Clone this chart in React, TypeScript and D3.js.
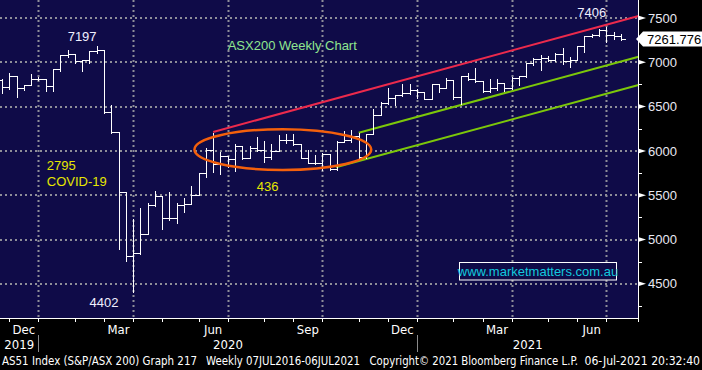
import React from "react";
import * as d3 from "d3";

const W = 702;
const H = 370;
const PLOT_R = 638;
const PLOT_B = 318;

// weekly bars (week ending Friday)
const weeks = [
  "2019-11-22", "2019-11-29", "2019-12-06", "2019-12-13", "2019-12-20", "2019-12-27",
  "2020-01-03", "2020-01-10", "2020-01-17", "2020-01-24", "2020-01-31",
  "2020-02-07", "2020-02-14", "2020-02-21", "2020-02-28",
  "2020-03-06", "2020-03-13", "2020-03-20", "2020-03-27",
  "2020-04-03", "2020-04-10", "2020-04-17", "2020-04-24",
  "2020-05-01", "2020-05-08", "2020-05-15", "2020-05-22", "2020-05-29",
  "2020-06-05", "2020-06-12", "2020-06-19", "2020-06-26",
  "2020-07-03", "2020-07-10", "2020-07-17", "2020-07-24", "2020-07-31",
  "2020-08-07", "2020-08-14", "2020-08-21", "2020-08-28",
  "2020-09-04", "2020-09-11", "2020-09-18", "2020-09-25",
  "2020-10-02", "2020-10-09", "2020-10-16", "2020-10-23", "2020-10-30",
  "2020-11-06", "2020-11-13", "2020-11-20", "2020-11-27",
  "2020-12-04", "2020-12-11", "2020-12-18", "2020-12-25",
  "2021-01-01", "2021-01-08", "2021-01-15", "2021-01-22", "2021-01-29",
  "2021-02-05", "2021-02-12", "2021-02-19", "2021-02-26",
  "2021-03-05", "2021-03-12", "2021-03-19", "2021-03-26",
  "2021-04-02", "2021-04-09", "2021-04-16", "2021-04-23", "2021-04-30",
  "2021-05-07", "2021-05-14", "2021-05-21", "2021-05-28",
  "2021-06-04", "2021-06-11", "2021-06-18", "2021-06-25",
  "2021-07-02", "2021-07-09",
];
const opens = [
  6800, 6718, 6846, 6706, 6744, 6816,
  6808, 6733, 6929, 7082, 7094,
  7017, 7022, 7130, 7139,
  6441, 6218, 5539, 4816,
  4842, 5067, 5387, 5488,
  5242, 5246, 5391, 5405, 5497,
  5755, 6010, 5848, 5942,
  5905, 6050, 5920, 6034, 6010,
  5928, 6003, 6127, 6124,
  6073, 5925, 5860, 5860,
  5965, 5791, 6102, 6125, 6173,
  5927, 6190, 6405, 6539,
  6601, 6636, 6650, 6690,
  6665, 6587, 6757, 6715, 6800,
  6607, 6841, 6808, 6793,
  6673, 6711, 6767, 6708,
  6824, 6840, 6995, 7040, 7053,
  7025, 7097, 7014, 7030,
  7179, 7296, 7312, 7369,
  7308, 7300,
];
const highs = [
  6819, 6894, 6850, 6760, 6876, 6840,
  6827, 6932, 7094, 7147, 7100,
  7040, 7139, 7197, 7139,
  6530, 6225, 5540, 5239,
  5363, 5427, 5559, 5491,
  5551, 5427, 5483, 5615, 5765,
  6047, 6210, 6002, 5954,
  6093, 6055, 6067, 6168, 6123,
  6090, 6191, 6198, 6198,
  6085, 6018, 5965, 5991,
  5970, 6123, 6236, 6244, 6217,
  6198, 6481, 6567, 6718,
  6642, 6770, 6770, 6706,
  6669, 6770, 6760, 6838, 6800,
  6857, 6894, 6944, 6800,
  6820, 6827, 6770, 6845,
  6857, 7007, 7063, 7094, 7082,
  7120, 7176, 7071, 7195,
  7308, 7330, 7390, 7406,
  7350, 7330,
];
const lows = [
  6650, 6700, 6612, 6690, 6740, 6795,
  6680, 6680, 6900, 7063, 6990,
  6906, 6990, 7108, 6430,
  6200, 4890, 4761, 4402,
  4840, 5060, 5380, 5115,
  5220, 5183, 5314, 5400, 5497,
  5709, 5765, 5739, 5822,
  5777, 5908, 5915, 6002, 5878,
  5910, 6002, 6085, 6067,
  5920, 5860, 5855, 5784,
  5790, 5790, 6100, 6105, 5920,
  5920, 6190, 6400, 6530,
  6518, 6620, 6642, 6593,
  6582, 6582, 6669, 6710, 6582,
  6530, 6800, 6781, 6669,
  6669, 6687, 6680, 6695,
  6744, 6831, 6970, 6913, 7018,
  7018, 6981, 6944, 7026,
  7120, 7290, 7300, 7225,
  7262, 7250,
];
const closes = [
  6718, 6846, 6706, 6744, 6816, 6808,
  6733, 6929, 7082, 7094, 7017,
  7022, 7130, 7139, 6441,
  6218, 5539, 4816, 4842,
  5067, 5387, 5488, 5242,
  5246, 5391, 5405, 5497, 5755,
  6010, 5848, 5942, 5905,
  6050, 5920, 6034, 6010, 5928,
  6003, 6127, 6124, 6073,
  5925, 5868, 5860, 5965,
  5791, 6102, 6125, 6173, 5927,
  6190, 6405, 6539, 6601,
  6636, 6650, 6690, 6665,
  6587, 6757, 6715, 6800, 6607,
  6841, 6808, 6793, 6673,
  6711, 6767, 6708, 6824,
  6840, 6995, 7040, 7053, 7025,
  7097, 7014, 7030, 7179,
  7296, 7312, 7369, 7308,
  7300, 7262,
];
const lastPrice = 7261.776;

const yTicks = [4500, 5000, 5500, 6000, 6500, 7000, 7500];
const yMinorTicks = [4250, 4750, 5250, 5750, 6250, 6750, 7250];
const monthNames = ["Jan", "Feb", "Mar", "Apr", "May", "Jun", "Jul", "Aug", "Sep", "Oct", "Nov", "Dec"];
const labelledMonths = [2, 5, 8, 11];
const yearLabels = ["2019", "2020", "2021"];

// trend channel and consolidation range
const redLine = [["2020-06-12", 6213], ["2021-07-26", 7523]];
const greenUpper = [["2020-10-30", 6205], ["2021-07-26", 7063]];
const greenLower = [["2020-10-08", 5815], ["2021-07-26", 6744]];
const rangeDates = ["2020-05-25", "2020-11-11"];
const rangeValues = [6245, 5785];

const notes = [
  { text: "7197", date: "2020-02-07", value: 7297, kind: "price" },
  { text: "ASX200 Weekly Chart", date: "2020-06-26", value: 7195, kind: "title" },
  { text: "7406", date: "2021-06-11", value: 7568, kind: "price" },
  { text: "2795", date: "2020-01-04", value: 5841, kind: "note" },
  { text: "COVID-19", date: "2020-01-04", value: 5660, kind: "note" },
  { text: "436", date: "2020-07-24", value: 5604, kind: "note" },
  { text: "4402", date: "2020-02-28", value: 4295, kind: "price" },
];

const footer = [
  "AS51 Index (S&P/ASX 200) Graph 217",
  "Weekly 07JUL2016-06JUL2021",
  "Copyright\u00a9 2021 Bloomberg Finance L.P.",
  "06-Jul-2021 20:32:40",
];

const BG = "#0f0b48";
const GRID = "#8e8e98";
const SANS = "'Liberation Sans', Arial, sans-serif";
const NARROW = "'Liberation Sans Narrow', 'DejaVu Sans Condensed', 'Arial Narrow', sans-serif";

const parse = d3.utcParse("%Y-%m-%d");

export default function App() {
  const dates = weeks.map((d) => parse(d) as Date);
  const x = d3
    .scaleUtc()
    .domain([parse("2019-12-31") as Date, parse("2021-07-26") as Date])
    .range([42.6, 638.5]);
  const y = d3.scaleLinear().domain([4500, 7500]).range([283.8, 18]);
  const px = (v: number) => Math.round(v) + 0.5;

  // last weekly bar of each complete month
  const groups = d3.groups(dates, (d) => d3.utcFormat("%Y-%m")(d));
  const monthEnds = groups.slice(0, -1).map(([, ds]) => ds[ds.length - 1]);

  const monthLabels: { x: number; text: string }[] = [];
  const gridX: number[] = [];
  monthEnds.forEach((d, i) => {
    const m = d.getUTCMonth();
    if (i > 0 && labelledMonths.includes(m)) {
      monthLabels.push({ x: (x(monthEnds[i - 1]) + x(d)) / 2, text: monthNames[m] });
      gridX.push(px(x(d)));
    }
  });
  const yearEdges = [0, ...monthEnds.filter((d) => d.getUTCMonth() === 11).map((d) => px(x(d))), PLOT_R];

  const line = (pts: (string | number)[][]) =>
    d3.line<(string | number)[]>()
      .x((p) => x(parse(p[0] as string) as Date))
      .y((p) => y(p[1] as number))(pts) as string;

  const ex0 = x(parse(rangeDates[0]) as Date);
  const ex1 = x(parse(rangeDates[1]) as Date);
  const ey0 = y(rangeValues[0]);
  const ey1 = y(rangeValues[1]);

  const noteColor: Record<string, string> = { price: "#f0f0ff", title: "#8fe68f", note: "#e6e600" };
  const footerSpans = [[2, 197], [206, 360], [369.5, 578], [584.5, 700]];
  const yl = y(lastPrice);

  return (
    <div style={{ position: "absolute", left: 0, top: 0, width: W, height: H, background: "#000" }}>
      <svg width={W} height={H} style={{ display: "block" }}>
        <rect x={0} y={0} width={W} height={H} fill="#000" />
        <rect x={0} y={0} width={PLOT_R} height={PLOT_B} fill={BG} />

        {/* grid */}
        <g stroke={GRID} strokeWidth={2} strokeDasharray="2 3">
          {yTicks.map((t) => (
            <line key={t} x1={0} x2={PLOT_R} y1={Math.round(y(t))} y2={Math.round(y(t))} />
          ))}
          {gridX.map((gx, i) => (
            <line key={i} x1={gx} x2={gx} y1={0} y2={PLOT_B} />
          ))}
        </g>

        {/* channel lines */}
        <path d={line(redLine)} stroke="#ec2a4c" strokeWidth={2} fill="none" />
        <path d={line(greenUpper)} stroke="#7cc70a" strokeWidth={2} fill="none" />
        <path d={line(greenLower)} stroke="#7cc70a" strokeWidth={2} fill="none" />

        {/* weekly bars */}
        <g stroke="#fff" strokeWidth={1} shapeRendering="crispEdges">
          {dates.map((d, i) => {
            const bx = px(x(d));
            const yo = px(y(opens[i]));
            const yc = px(y(closes[i]));
            return (
              <g key={weeks[i]}>
                <line x1={bx} x2={bx} y1={px(y(highs[i]))} y2={px(y(lows[i]))} />
                <line x1={bx - 4} x2={bx} y1={yo} y2={yo} />
                <line x1={bx} x2={bx + 4} y1={yc} y2={yc} />
              </g>
            );
          })}
        </g>

        {/* consolidation ellipse */}
        <ellipse
          cx={(ex0 + ex1) / 2}
          cy={(ey0 + ey1) / 2}
          rx={(ex1 - ex0) / 2}
          ry={(ey1 - ey0) / 2}
          fill="none"
          stroke="#f4600c"
          strokeWidth={2.5}
        />

        {/* annotations */}
        {notes.map((n) => (
          <text
            key={n.text}
            x={x(parse(n.date) as Date)}
            y={y(n.value)}
            dy="0.36em"
            textAnchor={n.kind === "price" ? "middle" : "start"}
            fill={noteColor[n.kind]}
            fontFamily={SANS}
            fontSize={13}
          >
            {n.text}
          </text>
        ))}

        {/* watermark */}
        <rect x={459.5} y={262.5} width={157} height={17.5} fill={BG} stroke="#fff" strokeWidth={1} />
        <text x={538} y={271.5} dy="0.36em" textAnchor="middle" fill="#12c9de" fontFamily={SANS} fontSize={13}>
          www.marketmatters.com.au
        </text>

        {/* right axis */}
        <line x1={PLOT_R + 0.5} x2={PLOT_R + 0.5} y1={0} y2={PLOT_B + 4} stroke="#fff" />
        <line x1={0} x2={PLOT_R + 1} y1={PLOT_B + 0.5} y2={PLOT_B + 0.5} stroke="#fff" />
        {yMinorTicks.map((t) => (
          <line key={t} x1={PLOT_R} x2={PLOT_R + 4} y1={px(y(t))} y2={px(y(t))} stroke="#fff" />
        ))}
        {yTicks.map((t) => (
          <g key={t}>
            <path d={`M${PLOT_R},${y(t) - 2.5}L${PLOT_R + 8},${y(t)}L${PLOT_R},${y(t) + 2.5}Z`} fill="#fff" />
            <text x={PLOT_R + 10} y={y(t)} dy="0.36em" fill="#e8e8f2" fontFamily={SANS} fontSize={13}>
              {t}
            </text>
          </g>
        ))}
        <path
          d={`M${PLOT_R - 2},${yl}L${PLOT_R + 5},${yl - 7.5}L${W},${yl - 7.5}L${W},${yl + 7.5}L${PLOT_R + 5},${yl + 7.5}Z`}
          fill="#fff"
        />
        <text x={PLOT_R + 9} y={yl} dy="0.36em" fill="#000" fontFamily={SANS} fontSize={13}>
          {lastPrice.toFixed(3)}
        </text>

        {/* time axis */}
        {monthEnds.map((d, i) => (
          <line key={i} x1={px(x(d))} x2={px(x(d))} y1={PLOT_B} y2={PLOT_B + 4} stroke="#fff" />
        ))}
        {monthLabels.map((m, i) => (
          <text key={i} x={m.x} y={329} dy="0.36em" textAnchor="middle" fill="#fff" fontFamily={NARROW} fontSize={13}>
            {m.text}
          </text>
        ))}
        {yearEdges.slice(1, -1).map((e, i) => (
          <line key={i} x1={e} x2={e} y1={335} y2={352} stroke="#8a8a8a" />
        ))}
        {yearLabels.map((t, i) => (
          <text
            key={t}
            x={Math.max(16, (yearEdges[i] + yearEdges[i + 1]) / 2)}
            y={344.5}
            dy="0.36em"
            textAnchor="middle"
            fill="#fff"
            fontFamily={NARROW}
            fontSize={13}
          >
            {t}
          </text>
        ))}
        {footer.map((t, i) => (
          <text
            key={t}
            x={footerSpans[i][0]}
            y={361}
            dy="0.36em"
            fill="#fff"
            fontFamily={NARROW}
            fontSize={11.5}
            textLength={footerSpans[i][1] - footerSpans[i][0]}
            lengthAdjust="spacingAndGlyphs"
          >
            {t}
          </text>
        ))}
      </svg>
    </div>
  );
}
